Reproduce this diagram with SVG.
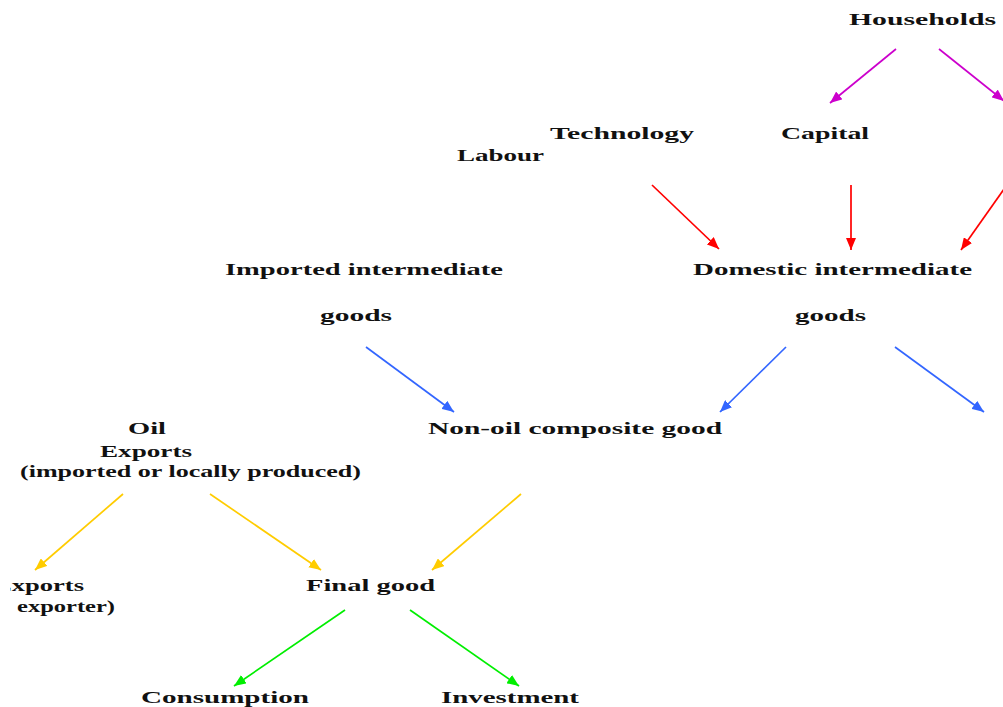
<svg xmlns="http://www.w3.org/2000/svg" width="1003" height="707" viewBox="0 0 1003 707">
<style>
text{font-family:"Liberation Serif","Times New Roman",serif;font-weight:bold;font-size:17px;fill:#111}
.c{fill:none;stroke-width:1.7}
.m{stroke:#cc00cc}.r{stroke:#ff0000}.b{stroke:#3366ff}.y{stroke:#ffcc00}.g{stroke:#00ee00}
</style>
<defs>
<marker id="am" viewBox="0 0 12 10" refX="12" refY="5" markerWidth="12" markerHeight="10" markerUnits="userSpaceOnUse" orient="auto"><path d="M0,0L12,5L0,10z" fill="#cc00cc"/></marker>
<marker id="ar" viewBox="0 0 12 10" refX="12" refY="5" markerWidth="12" markerHeight="10" markerUnits="userSpaceOnUse" orient="auto"><path d="M0,0L12,5L0,10z" fill="#ff0000"/></marker>
<marker id="ab" viewBox="0 0 12 10" refX="12" refY="5" markerWidth="12" markerHeight="10" markerUnits="userSpaceOnUse" orient="auto"><path d="M0,0L12,5L0,10z" fill="#3366ff"/></marker>
<marker id="ay" viewBox="0 0 12 10" refX="12" refY="5" markerWidth="12" markerHeight="10" markerUnits="userSpaceOnUse" orient="auto"><path d="M0,0L12,5L0,10z" fill="#ffcc00"/></marker>
<marker id="ag" viewBox="0 0 12 10" refX="12" refY="5" markerWidth="12" markerHeight="10" markerUnits="userSpaceOnUse" orient="auto"><path d="M0,0L12,5L0,10z" fill="#00ee00"/></marker>
<clipPath id="leftclip"><rect x="10" y="560" width="200" height="70"/></clipPath>
</defs>
<rect width="1003" height="707" fill="#fff"/>
<g id="connectors">
<line class="c m" x1="896" y1="49" x2="830" y2="103" marker-end="url(#am)"/>
<line class="c m" x1="939" y1="49" x2="1004" y2="101" marker-end="url(#am)"/>
<line class="c r" x1="652" y1="185" x2="719" y2="249" marker-end="url(#ar)"/>
<line class="c r" x1="851" y1="185" x2="851" y2="250" marker-end="url(#ar)"/>
<line class="c r" x1="1004" y1="189" x2="961" y2="250" marker-end="url(#ar)"/>
<line class="c b" x1="366" y1="347" x2="454" y2="412" marker-end="url(#ab)"/>
<line class="c b" x1="786" y1="347" x2="720" y2="412" marker-end="url(#ab)"/>
<line class="c b" x1="895" y1="347" x2="984" y2="412" marker-end="url(#ab)"/>
<line class="c y" x1="123" y1="494" x2="35" y2="570" marker-end="url(#ay)"/>
<line class="c y" x1="210" y1="494" x2="321" y2="570" marker-end="url(#ay)"/>
<line class="c y" x1="521" y1="494" x2="432" y2="570" marker-end="url(#ay)"/>
<line class="c g" x1="345" y1="610" x2="234" y2="686" marker-end="url(#ag)"/>
<line class="c g" x1="410" y1="610" x2="519" y2="686" marker-end="url(#ag)"/>
</g>
<g id="households"><text x="849" y="25" textLength="147" lengthAdjust="spacingAndGlyphs">Households</text></g>
<g id="technology"><text x="550" y="139" textLength="144" lengthAdjust="spacingAndGlyphs">Technology</text></g>
<g id="capital"><text x="781" y="139" textLength="88" lengthAdjust="spacingAndGlyphs">Capital</text></g>
<g id="labour"><text x="457" y="161" textLength="87" lengthAdjust="spacingAndGlyphs">Labour</text></g>
<g id="imported">
<text x="225" y="275" textLength="278" lengthAdjust="spacingAndGlyphs">Imported intermediate</text>
<text x="320" y="321" textLength="72" lengthAdjust="spacingAndGlyphs">goods</text>
</g>
<g id="domestic">
<text x="693" y="275" textLength="279" lengthAdjust="spacingAndGlyphs">Domestic intermediate</text>
<text x="795" y="321" textLength="71" lengthAdjust="spacingAndGlyphs">goods</text>
</g>
<g id="nonoil"><text x="428" y="434" textLength="294" lengthAdjust="spacingAndGlyphs">Non-oil composite good</text></g>
<g id="oil">
<text x="128" y="434" textLength="38" lengthAdjust="spacingAndGlyphs">Oil</text>
<text x="100" y="457" textLength="92" lengthAdjust="spacingAndGlyphs">Exports</text>
<text x="20" y="477" textLength="341" lengthAdjust="spacingAndGlyphs">(imported or locally produced)</text>
</g>
<g id="oilexports" clip-path="url(#leftclip)">
<text x="-6" y="591" textLength="90" lengthAdjust="spacingAndGlyphs">Exports</text>
<text x="17" y="612" textLength="98" lengthAdjust="spacingAndGlyphs">exporter)</text>
</g>
<g id="final"><text x="306" y="591" textLength="129" lengthAdjust="spacingAndGlyphs">Final good</text></g>
<g id="consumption"><text x="141" y="703" textLength="168" lengthAdjust="spacingAndGlyphs">Consumption</text></g>
<g id="investment"><text x="441" y="703" textLength="138" lengthAdjust="spacingAndGlyphs">Investment</text></g>
</svg>
